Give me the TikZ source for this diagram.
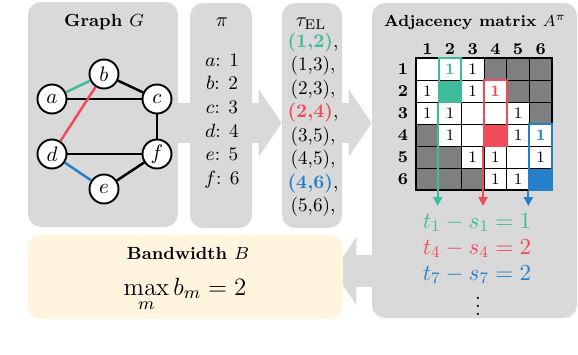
\documentclass[tikz,border=0pt]{standalone}
\usepackage{fix-cm}
\usepackage{amsmath}
\usetikzlibrary{arrows.meta,backgrounds,calc}

\definecolor{bwteal}{HTML}{3EBB9B}
\definecolor{bwred}{HTML}{F04B58}
\definecolor{bwblue}{HTML}{2680C9}
\definecolor{boxgray}{HTML}{D9D9D9}
\definecolor{cellgray}{HTML}{7F7F7F}
\definecolor{bwcream}{HTML}{FFF5DF}
\newcommand{\unitpx}{0.5pt}

\tikzset{
  panel/.style={fill=boxgray,rounded corners=6.5pt,inner sep=0pt},
  paneltitle/.style={font=\fontsize{8.8}{10}\selectfont\bfseries,anchor=base},
  listtext/.style={font=\fontsize{9.6}{11}\selectfont,anchor=base},
  vertex/.style={circle,draw,fill=white,line width=0.95pt,minimum size=29*\unitpx,
    inner sep=0pt,font=\fontsize{10.5}{12}\selectfont},
  gedge/.style={line width=1.25pt},
  hdr/.style={font=\fontsize{8.3}{9}\selectfont\bfseries,inner sep=0pt},
  cellnum/.style={font=\fontsize{8}{9}\selectfont,inner sep=0pt},
  hilite/.style={draw=#1,line width=1pt,inner sep=0pt,minimum width=22.67*\unitpx},
  colarrow/.style={line width=1.1pt,-{Triangle[length=4.5pt,width=4.5pt]}},
  eqtext/.style={font=\fontsize{11.5}{13}\selectfont,anchor=base},
  bigarrow/.style={draw=boxgray,line width=#1,-{Triangle[length=11.5pt,width=34pt,line width=0pt]}},
}

\begin{document}
\begin{tikzpicture}[x=0.5pt,y=-0.5pt,>=Stealth]
\useasboundingbox (0,0) rectangle (578,354);
% ================= panels =================
\node[panel,minimum width=150*\unitpx,minimum height=225*\unitpx] (graphbox) at (103,114.5) {};
\node[panel,minimum width=62*\unitpx,minimum height=225*\unitpx] (pibox) at (221,115.5) {};
\node[panel,minimum width=60*\unitpx,minimum height=225*\unitpx] (taubox) at (312,115.5) {};
\node[panel,minimum width=205*\unitpx,minimum height=315*\unitpx] (adjbox) at (474.5,160.5) {};
\node[panel,fill=bwcream,minimum width=315*\unitpx,minimum height=84*\unitpx] (bwbox) at (185.5,277) {};
% big gray arrows behind the panels
\coordinate (arrowrow) at (0,123);
\coordinate (backrow) at (0,271);
\begin{scope}[on background layer]
\draw[bigarrow=20pt] (graphbox.east |- arrowrow) -- ($(pibox.west |- arrowrow)+(30,0)$);
\draw[bigarrow=20pt] (pibox.east |- arrowrow) -- (taubox.west |- arrowrow);
\draw[bigarrow=20pt] (taubox.east |- arrowrow) -- (adjbox.west |- arrowrow);
\draw[bigarrow=16pt] (adjbox.west |- backrow) -- ($(bwbox.east |- backrow)+(-10,0)$);
\end{scope}
% ================= Graph G =================
\node[paneltitle] (graphtitle) at (104,26.5) {Graph $G$};
\node[vertex] (a) at (52,99) {$a$};
\node[vertex] (b) at (104,74) {$b$};
\node[vertex] (c) at (157,99) {$c$};
\node[vertex] (d) at (52,154) {$d$};
\node[vertex] (f) at (157,154) {$f$};
\node[vertex] (e) at (104,189) {$e$};
\draw[gedge] (a) -- (c);
\draw[gedge] (b) -- (c);
\draw[gedge] (c) -- (f);
\draw[gedge] (d) -- (f);
\draw[gedge] (e) -- (f);
\draw[gedge,bwteal] (a) -- (b);
\draw[gedge,bwred] (b) -- (d);
\draw[gedge,bwblue] (d) -- (e);
% ================= ordering pi =================
\node[paneltitle,font=\fontsize{10}{12}\selectfont] (pititle) at (222,26.5) {$\pi$};
\foreach \v/\n [count=\k] in {a/1,b/2,c/3,d/4,e/5,f/6}
  \node[listtext] (pi\v) at (222,{66+(\k-1)*23.7}) {$\v$: \n};
% ================= edge list tau_EL =================
\node[paneltitle,font=\fontsize{10}{12}\selectfont] (tautitle) at (311,26.5) {$\tau_{\mathrm{EL}}$};
\node[listtext] (el1) at (313,47) {{\bfseries\color{bwteal}(1,2)},};
\node[listtext] (el2) at (313,70.5) {(1,3),};
\node[listtext] (el3) at (313,94) {(2,3),};
\node[listtext] (el4) at (313,117.5) {{\bfseries\color{bwred}(2,4)},};
\node[listtext] (el5) at (313,141) {(3,5),};
\node[listtext] (el6) at (313,164.5) {(4,5),};
\node[listtext] (el7) at (313,188) {{\bfseries\color{bwblue}(4,6)},};
\node[listtext] (el8) at (313,211.5) {(5,6),};
% ================= adjacency matrix =================
\node[paneltitle,font=\fontsize{8}{10}\selectfont\bfseries] (adjtitle) at (475,26.5) {Adjacency matrix $A^{\pi}$};
\fill[white] (416,58) rectangle (552,190);
\foreach \r/\c in {1/4,1/5,1/6,2/5,2/6,3/6,4/1,5/1,5/2,6/1,6/2,6/3}
  \fill[cellgray] ({416+(\c-1)*22.67},{58+(\r-1)*22}) rectangle ++(22.67,22);
\fill[bwteal] ({416+1*22.67},80) rectangle ++(22.67,22);
\fill[bwred] ({416+3*22.67},124) rectangle ++(22.67,22);
\fill[bwblue] ({416+5*22.67},168) rectangle ++(22.67,22);
\foreach \i in {1,...,5} {
  \draw[line width=0.4pt] ({416+\i*22.67},58) -- ({416+\i*22.67},190);
  \draw[line width=0.4pt] (416,{58+\i*22}) -- (552,{58+\i*22});
}
\draw[line width=1.1pt] (416,58) rectangle (552,190);
\foreach \i in {1,...,6} {
  \node[hdr] (col\i) at ({416+(\i-0.5)*22.67},49) {\i};
  \node[hdr] (row\i) at (403,{58+(\i-0.5)*22}) {\i};
}
\foreach \r/\c in {1/3,2/1,2/3,3/1,3/2,3/5,4/2,4/5,5/3,5/4,5/6,6/4,6/5}
  \node[cellnum] (m\r\c) at ({416+(\c-0.5)*22.67},{58+(\r-0.5)*22}) {1};
\node[cellnum,font=\fontsize{8}{9}\selectfont\bfseries,text=bwteal] (m12) at ({416+1.5*22.67},69) {1};
\node[cellnum,font=\fontsize{8}{9}\selectfont\bfseries,text=bwred] (m24) at ({416+3.5*22.67},91) {1};
\node[cellnum,font=\fontsize{8}{9}\selectfont\bfseries,text=bwblue] (m46) at ({416+5.5*22.67},135) {1};
% highlighted columns
\node[hilite=bwteal,minimum height=44*\unitpx] (tealframe) at ({416+1.5*22.67},80) {};
\node[hilite=bwred,minimum height=66*\unitpx] (redframe) at ({416+3.5*22.67},113) {};
\node[hilite=bwblue,minimum height=66*\unitpx] (blueframe) at ({416+5.5*22.67},157) {};
% t_m - s_m
\coordinate (arrowstop) at (0,206);
\node[eqtext,text=bwteal] (tealeq) at (477,228) {$t_1 - s_1 = 1$};
\node[eqtext,text=bwred] (redeq) at (477,254) {$t_4 - s_4 = 2$};
\node[eqtext,text=bwblue] (blueeq) at (477,280) {$t_7 - s_7 = 2$};
\node[eqtext,anchor=center,inner sep=0pt] (moredots) at (478,300) {$\vdots$};
\draw[colarrow,bwteal] (tealframe.south west) -- (tealframe.south west |- arrowstop);
\draw[colarrow,bwred] (redframe.south west) -- (redframe.south west |- arrowstop);
\draw[colarrow,bwblue] (blueframe.south west) -- (blueframe.south west |- arrowstop);
% ================= bandwidth B =================
\node[paneltitle] (bwtitle) at (188,259) {Bandwidth $B$};
\node[eqtext,font=\fontsize{12.5}{14}\selectfont] (bwvalue) at (185,295) {$\displaystyle\max_m b_m = 2$};
\end{tikzpicture}
\end{document}
